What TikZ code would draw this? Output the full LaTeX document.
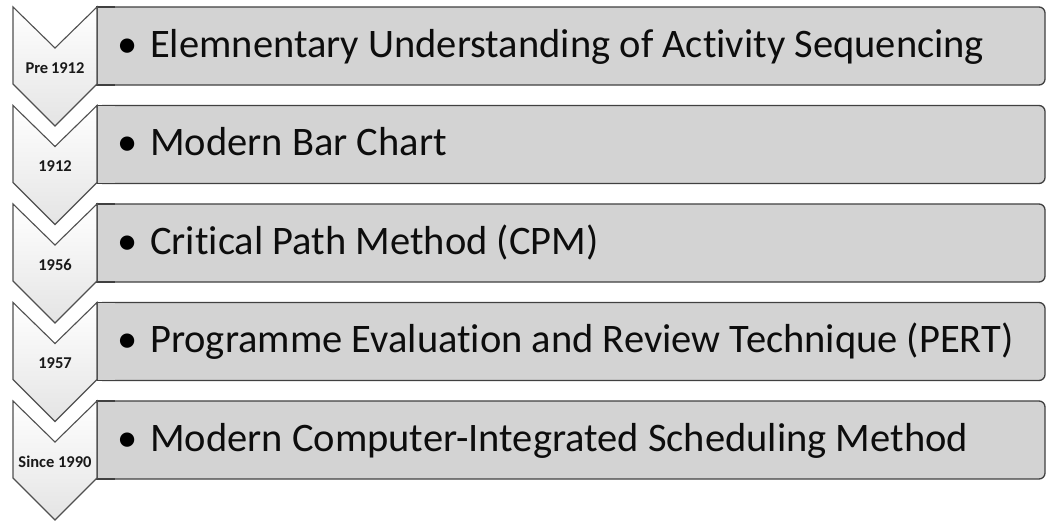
\documentclass[tikz,border=0pt]{standalone}
\usepackage{fontspec}
\setmainfont[RawFeature={-liga;-clig;-dlig}]{Carlito}
\definecolor{boxfill}{RGB}{211,211,211}
\definecolor{boxline}{RGB}{64,64,64}
\definecolor{chevline}{RGB}{80,80,80}
\definecolor{chevbot}{RGB}{228,228,228}
\begin{document}
\begin{tikzpicture}[x=1pt,y=-1pt,
  chev/.style={draw=none,top color=white,bottom color=chevbot},
  chevedge/.style={draw=chevline,line width=1.1pt,line join=miter},
  boxshape/.style={fill=boxfill,draw=boxline,line width=1.3pt},
  boxpatch/.style={fill=boxfill,draw=none},
  yearlbl/.style={font=\bfseries\fontsize{16.5}{18}\selectfont,text=black!90,inner sep=0pt,anchor=base},
  bulletlbl/.style={font=\fontsize{40.5}{46}\selectfont,inner sep=0pt,anchor=base},
  itemlbl/.style={font=\fontsize{40.5}{46}\selectfont,inner sep=0pt,anchor=base west,text=black!95}]
\useasboundingbox[fill=white] (0,0) rectangle (1046,520);
\foreach \k/\yr/\txt in {0/Pre\,1912/Elemnentary Understanding of Activity Sequencing,
                         1/1912/Modern Bar Chart,
                         2/1956/Critical Path Method (CPM),
                         3/1957/Programme Evaluation and Review Technique (PERT),
                         4/Since 1990/Modern Computer-Integrated Scheduling Method}{
  \pgfmathsetmacro{\t}{7+98.5*\k}
  \pgfmathsetmacro{\b}{\t+78}
  \pgfmathsetmacro{\m}{\t+39}
  % rectangle with sharp left and rounded right corners
  \draw[boxshape,rounded corners=6pt] (97,\t) rectangle (1045,\b);
  \fill[boxpatch] (97,\t) rectangle (115,\b);
  \draw[boxshape,fill=none] (115,\t) -- (97,\t) -- (97,\b) -- (115,\b);
  % chevron
  \path[chev] (13,\t) -- (55,\t+41) -- (97,\t) -- (97,\t+77) -- (55,\t+119) -- (13,\t+77) -- cycle;
  \draw[chevedge] (13,\t) -- (55,\t+41) -- (97,\t) -- (97,\t+77) -- (55,\t+119) -- (13,\t+77) -- cycle;
  \node[yearlbl] (y\k) at (55,\t+66) {\yr};
  \node[bulletlbl] (b\k) at (128,\m+11) {•};
  \node[itemlbl] (i\k) at (150,\m+11) {\txt};
}
\end{tikzpicture}
\end{document}
